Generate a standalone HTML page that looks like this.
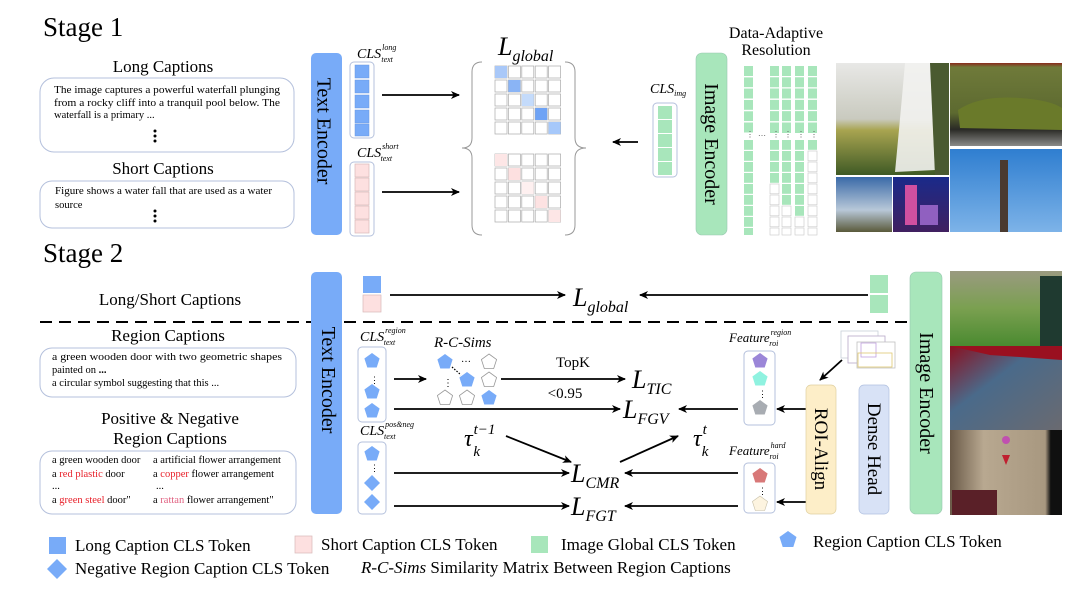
<!DOCTYPE html>
<html><head><meta charset="utf-8"><style>
html,body{margin:0;padding:0;background:#fff;}
svg{display:block;font-family:"Liberation Serif",serif;}
</style></head><body>
<svg width="1090" height="598" viewBox="0 0 1090 598" xmlns="http://www.w3.org/2000/svg">
<defs>
<marker id="ah" markerWidth="10" markerHeight="10" refX="8" refY="5" orient="auto" markerUnits="userSpaceOnUse">
<path d="M0,1 L9,5 L0,9 L2.5,5z" fill="#000"/></marker>
<polygon id="pent" points="0,-8 7.6,-2.5 4.7,6.5 -4.7,6.5 -7.6,-2.5"/>
<polygon id="dia" points="0,-8 8,0 0,8 -8,0"/>
<linearGradient id="wf" x1="0" y1="0" x2="0" y2="1"><stop offset="0" stop-color="#e8e8e6"/><stop offset="0.5" stop-color="#c9cabf"/><stop offset="0.6" stop-color="#a8a450"/><stop offset="1" stop-color="#3f5a25"/></linearGradient>
<linearGradient id="car" x1="0" y1="0" x2="0" y2="1"><stop offset="0" stop-color="#8a2a1c"/><stop offset="0.05" stop-color="#6f7a3a"/><stop offset="0.6" stop-color="#5d6a30"/><stop offset="0.8" stop-color="#2a2a26"/><stop offset="1" stop-color="#8a8a88"/></linearGradient>
<linearGradient id="sky" x1="0" y1="0" x2="0" y2="1"><stop offset="0" stop-color="#2f7ed0"/><stop offset="1" stop-color="#7db3e8"/></linearGradient>
<linearGradient id="land" x1="0" y1="0" x2="0" y2="1"><stop offset="0" stop-color="#3a6aa8"/><stop offset="0.6" stop-color="#b8c8d8"/><stop offset="1" stop-color="#5a5a3a"/></linearGradient>
<linearGradient id="night" x1="0" y1="0" x2="0" y2="1"><stop offset="0" stop-color="#1a2a8a"/><stop offset="1" stop-color="#402060"/></linearGradient>
<linearGradient id="p1" x1="0" y1="0" x2="0" y2="1"><stop offset="0" stop-color="#9a9a80"/><stop offset="0.5" stop-color="#7aa050"/><stop offset="1" stop-color="#4a8a30"/></linearGradient>
<linearGradient id="p2" x1="0" y1="0" x2="1" y2="1"><stop offset="0" stop-color="#8a1020"/><stop offset="0.4" stop-color="#4a6a8a"/><stop offset="1" stop-color="#6a6a70"/></linearGradient>
<linearGradient id="p3" x1="0" y1="0" x2="1" y2="0"><stop offset="0" stop-color="#6a5a48"/><stop offset="0.3" stop-color="#b8a890"/><stop offset="0.85" stop-color="#a89880"/><stop offset="0.9" stop-color="#101010"/></linearGradient>
</defs>

<!-- Stage 1 -->
<text x="43" y="36" font-size="27">Stage 1</text>
<text x="163" y="72" font-size="17" text-anchor="middle">Long Captions</text>
<rect x="40" y="78" width="254" height="74" rx="14" fill="none" stroke="#b4c0dc"/>
<g font-size="10.5">
<text x="54" y="93" textLength="226" lengthAdjust="spacingAndGlyphs">The image captures a powerful waterfall plunging</text>
<text x="54" y="106" textLength="226" lengthAdjust="spacingAndGlyphs">from a rocky cliff into a tranquil pool below. The</text>
<text x="54" y="118">waterfall is a primary ...</text>
</g>
<g fill="#000"><circle cx="155" cy="131" r="1.5"/><circle cx="155" cy="136" r="1.5"/><circle cx="155" cy="141" r="1.5"/></g>
<text x="163" y="174" font-size="17" text-anchor="middle">Short Captions</text>
<rect x="40" y="181" width="254" height="47" rx="12" fill="none" stroke="#b4c0dc"/>
<g font-size="10.5">
<text x="55" y="194" textLength="217" lengthAdjust="spacingAndGlyphs">Figure shows a water fall that are used as a water</text>
<text x="55" y="208">source</text>
</g>
<g fill="#000"><circle cx="155" cy="211" r="1.5"/><circle cx="155" cy="216" r="1.5"/><circle cx="155" cy="221" r="1.5"/></g>

<rect x="311" y="53" width="31" height="182" rx="5" fill="#78abf8"/>
<text transform="translate(319,131) rotate(90)" font-size="20" text-anchor="middle" dominant-baseline="middle" x="0" y="-3">Text Encoder</text>

<text x="357" y="58" font-size="14" font-style="italic">CLS<tspan font-size="8" dy="-8" dx="1">long</tspan><tspan font-size="8" dx="-15" dy="12">text</tspan></text>
<rect x="350" y="62" width="24" height="76" rx="4" fill="none" stroke="#b4c0dc"/>
<g fill="#78abf8" stroke="#6a98e0" stroke-width="0.5">
<rect x="355" y="65" width="14" height="13"/><rect x="355" y="80" width="14" height="13"/><rect x="355" y="95" width="14" height="13"/><rect x="355" y="110" width="14" height="13"/><rect x="355" y="124" width="14" height="12"/></g>
<text x="357" y="157" font-size="14" font-style="italic">CLS<tspan font-size="8" dy="-8" dx="1">short</tspan><tspan font-size="8" dx="-18" dy="12">text</tspan></text>
<rect x="350" y="162" width="24" height="74" rx="4" fill="none" stroke="#b4c0dc"/>
<g fill="#fde0e0" stroke="#d8b8b8" stroke-width="0.7">
<rect x="355" y="164" width="14" height="13"/><rect x="355" y="178" width="14" height="13"/><rect x="355" y="192" width="14" height="13"/><rect x="355" y="206" width="14" height="13"/><rect x="355" y="220" width="14" height="13"/></g>

<g stroke="#000" stroke-width="1.8" marker-end="url(#ah)">
<line x1="382" y1="95" x2="459" y2="95"/>
<line x1="382" y1="192" x2="459" y2="192"/>
<line x1="638" y1="142" x2="613" y2="142"/>
</g>

<text x="498" y="55" font-size="26" font-style="italic">L<tspan font-size="16" dy="6">global</tspan></text>
<path d="M482,62 Q472,62 472,72 L472,138 Q472,148 462,148 Q472,148 472,158 L472,225 Q472,235 482,235" fill="none" stroke="#999" stroke-width="1"/>
<path d="M565,62 Q575,62 575,72 L575,138 Q575,148 586,148 Q575,148 575,158 L575,225 Q575,235 565,235" fill="none" stroke="#999" stroke-width="1"/>
<g fill="#fff" stroke="#aaa" stroke-width="0.7">
<!-- top matrix -->
<g id="mt">
<rect x="495" y="66" width="12" height="12"/><rect x="508.4" y="66" width="12" height="12"/><rect x="521.8" y="66" width="12" height="12"/><rect x="535.2" y="66" width="12" height="12"/><rect x="548.6" y="66" width="12" height="12"/>
<rect x="495" y="80" width="12" height="12"/><rect x="508.4" y="80" width="12" height="12"/><rect x="521.8" y="80" width="12" height="12"/><rect x="535.2" y="80" width="12" height="12"/><rect x="548.6" y="80" width="12" height="12"/>
<rect x="495" y="94" width="12" height="12"/><rect x="508.4" y="94" width="12" height="12"/><rect x="521.8" y="94" width="12" height="12"/><rect x="535.2" y="94" width="12" height="12"/><rect x="548.6" y="94" width="12" height="12"/>
<rect x="495" y="108" width="12" height="12"/><rect x="508.4" y="108" width="12" height="12"/><rect x="521.8" y="108" width="12" height="12"/><rect x="535.2" y="108" width="12" height="12"/><rect x="548.6" y="108" width="12" height="12"/>
<rect x="495" y="122" width="12" height="12"/><rect x="508.4" y="122" width="12" height="12"/><rect x="521.8" y="122" width="12" height="12"/><rect x="535.2" y="122" width="12" height="12"/><rect x="548.6" y="122" width="12" height="12"/>
</g>
<use href="#mt" y="88"/>
</g>
<rect x="495" y="66" width="12" height="12" fill="#a9c8f8"/>
<rect x="508.4" y="80" width="12" height="12" fill="#8ab4f5"/>
<rect x="521.8" y="94" width="12" height="12" fill="#c4dbfb"/>
<rect x="535.2" y="108" width="12" height="12" fill="#6fa3f5"/>
<rect x="548.6" y="122" width="12" height="12" fill="#a6c8fa"/>
<rect x="495" y="154" width="12" height="12" fill="#fde6e6"/>
<rect x="508.4" y="168" width="12" height="12" fill="#fde0e0"/>
<rect x="521.8" y="182" width="12" height="12" fill="#fef0f0"/>
<rect x="535.2" y="196" width="12" height="12" fill="#fde2e2"/>
<rect x="548.6" y="210" width="12" height="12" fill="#fde6e6"/>

<text x="650" y="93" font-size="14" font-style="italic">CLS<tspan font-size="8" dy="3">img</tspan></text>
<rect x="653" y="103" width="24" height="74" rx="4" fill="none" stroke="#b4c0dc"/>
<g fill="#a8e6bb"><rect x="658" y="106" width="14" height="13"/><rect x="658" y="120" width="14" height="13"/><rect x="658" y="134" width="14" height="13"/><rect x="658" y="148" width="14" height="13"/><rect x="658" y="162" width="14" height="13"/></g>

<rect x="696" y="53" width="31" height="182" rx="6" fill="#a8e6bb" stroke="#98c8b0" stroke-width="0.6"/>
<text transform="translate(711,144) rotate(90)" font-size="20" text-anchor="middle" x="0" y="6">Image Encoder</text>

<text x="776" y="38" font-size="16" text-anchor="middle">Data-Adaptive</text>
<text x="776" y="55" font-size="16" text-anchor="middle">Resolution</text>
<g id="gcols"></g>
<g fill="#a8e6bb">
<rect x="744" y="66" width="9" height="10"/><rect x="744" y="77.3" width="9" height="10"/><rect x="744" y="88.6" width="9" height="10"/><rect x="744" y="99.9" width="9" height="10"/><rect x="744" y="111.2" width="9" height="10"/><rect x="744" y="122.5" width="9" height="10"/>
</g>
<g fill="#a8e6bb"><use href="#tc" x="0"/></g>
<!-- columns top part -->
<g fill="#a8e6bb">
<rect x="770" y="66" width="9" height="67"/><rect x="782" y="66" width="9" height="67"/><rect x="795" y="66" width="9" height="67"/><rect x="808" y="66" width="9" height="67"/>
</g>
<g stroke="#fff" stroke-width="1.3">
<line x1="740" y1="76.6" x2="820" y2="76.6"/><line x1="740" y1="87.9" x2="820" y2="87.9"/><line x1="740" y1="99.2" x2="820" y2="99.2"/><line x1="740" y1="110.5" x2="820" y2="110.5"/><line x1="740" y1="121.8" x2="820" y2="121.8"/>
</g>
<g font-size="8" fill="#555"><text x="746" y="137">⋮</text><text x="758" y="136">…</text><text x="772" y="137">⋮</text><text x="784" y="137">⋮</text><text x="797" y="137">⋮</text><text x="810" y="137">⋮</text></g>
<!-- bottom rows -->
<g stroke-width="0.6" stroke="#c8c8c8">
<g fill="#a8e6bb" stroke="none">
<rect x="744" y="140" width="9" height="9.8"/><rect x="744" y="151" width="9" height="9.8"/><rect x="744" y="162" width="9" height="9.8"/><rect x="744" y="173" width="9" height="9.8"/><rect x="744" y="184" width="9" height="9.8"/><rect x="744" y="195" width="9" height="9.8"/><rect x="744" y="206" width="9" height="9.8"/><rect x="744" y="217" width="9" height="9.8"/><rect x="744" y="228" width="9" height="7"/>
<rect x="770" y="140" width="9" height="9.8"/><rect x="770" y="151" width="9" height="9.8"/><rect x="770" y="162" width="9" height="9.8"/><rect x="770" y="173" width="9" height="9.8"/>
<rect x="782" y="140" width="9" height="9.8"/><rect x="782" y="151" width="9" height="9.8"/><rect x="782" y="162" width="9" height="9.8"/><rect x="782" y="173" width="9" height="9.8"/><rect x="782" y="184" width="9" height="9.8"/><rect x="782" y="195" width="9" height="9.8"/>
<rect x="795" y="140" width="9" height="9.8"/><rect x="795" y="151" width="9" height="9.8"/><rect x="795" y="162" width="9" height="9.8"/><rect x="795" y="173" width="9" height="9.8"/><rect x="795" y="184" width="9" height="9.8"/><rect x="795" y="195" width="9" height="9.8"/><rect x="795" y="206" width="9" height="9.8"/>
<rect x="808" y="140" width="9" height="9.8"/>
</g>
<g fill="#fff">
<rect x="770" y="184" width="9" height="9.8"/><rect x="770" y="195" width="9" height="9.8"/><rect x="770" y="206" width="9" height="9.8"/><rect x="770" y="217" width="9" height="9.8"/><rect x="770" y="228" width="9" height="7"/>
<rect x="782" y="206" width="9" height="9.8"/><rect x="782" y="217" width="9" height="9.8"/><rect x="782" y="228" width="9" height="7"/>
<rect x="795" y="217" width="9" height="9.8"/><rect x="795" y="228" width="9" height="7"/>
<rect x="808" y="151" width="9" height="9.8"/><rect x="808" y="162" width="9" height="9.8"/><rect x="808" y="173" width="9" height="9.8"/><rect x="808" y="184" width="9" height="9.8"/><rect x="808" y="195" width="9" height="9.8"/><rect x="808" y="206" width="9" height="9.8"/><rect x="808" y="217" width="9" height="9.8"/><rect x="808" y="228" width="9" height="7"/>
</g></g>

<!-- photos stage 1 -->
<rect x="836" y="63" width="113" height="112" fill="url(#wf)"/>
<path d="M905,63 L930,63 L935,170 L895,172 Q900,120 905,63z" fill="#f2f2f0" opacity="0.9"/>
<path d="M930,63 L949,63 L949,175 L935,175z" fill="#4a5a30"/>
<rect x="950" y="63" width="112" height="83" fill="url(#car)"/>
<path d="M958,110 Q980,95 1020,98 Q1050,100 1062,108 L1062,130 L960,128z" fill="#6a7a2a"/>
<rect x="950" y="149" width="112" height="83" fill="url(#sky)"/>
<rect x="1000" y="160" width="8" height="72" fill="#4a3a30"/>
<rect x="836" y="177" width="56" height="55" fill="url(#land)"/>
<rect x="893" y="177" width="56" height="55" fill="url(#night)"/>
<rect x="905" y="185" width="12" height="40" fill="#d050a0"/><rect x="920" y="205" width="18" height="20" fill="#9060c0"/>

<!-- Stage 2 -->
<text x="43" y="262" font-size="27">Stage 2</text>
<text x="170" y="305" font-size="17" text-anchor="middle">Long/Short Captions</text>
<line x1="40" y1="322" x2="910" y2="322" stroke="#000" stroke-width="2" stroke-dasharray="12,7"/>
<rect x="311" y="272" width="31" height="242" rx="5" fill="#78abf8"/>
<text transform="translate(319,380) rotate(90)" font-size="20" text-anchor="middle" x="0" y="-3">Text Encoder</text>
<rect x="910" y="272" width="32" height="242" rx="6" fill="#a8e6bb" stroke="#98c8b0" stroke-width="0.6"/>
<text transform="translate(926,393) rotate(90)" font-size="20" text-anchor="middle" x="0" y="6">Image Encoder</text>
<rect x="363" y="276" width="18" height="17" fill="#78abf8"/>
<rect x="363" y="295" width="18" height="17" fill="#fde0e0" stroke="#d8b8b8" stroke-width="0.7"/>
<rect x="870" y="275" width="18" height="18" fill="#a8e6bb"/>
<rect x="870" y="295" width="18" height="18" fill="#a8e6bb"/>
<g stroke="#000" stroke-width="1.8" marker-end="url(#ah)">
<line x1="390" y1="295" x2="565" y2="295"/>
<line x1="868" y1="295" x2="640" y2="295"/>
</g>
<text x="573" y="306" font-size="26" font-style="italic">L<tspan font-size="16" dy="6">global</tspan></text>

<text x="168" y="341" font-size="17" text-anchor="middle">Region Captions</text>
<rect x="40" y="348" width="256" height="49" rx="12" fill="none" stroke="#b4c0dc"/>
<g font-size="10.5">
<text x="52" y="360" textLength="230" lengthAdjust="spacingAndGlyphs">a green wooden door with two geometric shapes</text>
<text x="52" y="373">painted on <tspan font-weight="bold">...</tspan></text>
<text x="52" y="386">a circular symbol suggesting that this ...</text>
</g>
<text x="170" y="424" font-size="17" text-anchor="middle">Positive &amp; Negative</text>
<text x="170" y="444" font-size="17" text-anchor="middle">Region Captions</text>
<rect x="40" y="451" width="256" height="63" rx="12" fill="none" stroke="#b4c0dc"/>
<g font-size="10.5">
<text x="52" y="463">a green wooden door</text>
<text x="153" y="463">a artificial flower arrangement</text>
<text x="52" y="477">a <tspan fill="#e8202a">red plastic</tspan> door</text>
<text x="153" y="477">a <tspan fill="#e8202a">copper</tspan> flower arrangement</text>
<text x="52" y="489">...</text><text x="156" y="489">...</text>
<text x="52" y="503">a <tspan fill="#e8202a">green steel</tspan> door"</text>
<text x="153" y="503">a <tspan fill="#e06080">rattan</tspan> flower arrangement"</text>
</g>

<!-- middle stage 2 -->
<text x="360" y="341" font-size="14" font-style="italic">CLS<tspan font-size="8" dy="-8" dx="1">region</tspan><tspan font-size="8" dx="-22" dy="12">text</tspan></text>
<rect x="358" y="347" width="28" height="75" rx="4" fill="none" stroke="#b4c0dc"/>
<g fill="#78abf8"><use href="#pent" x="372" y="361"/><use href="#pent" x="372" y="392"/><use href="#pent" x="372" y="411"/></g>
<text x="370" y="383" font-size="9">⋮</text>
<text x="360" y="435" font-size="14" font-style="italic">CLS<tspan font-size="8" dy="-8" dx="1">pos&amp;neg</tspan><tspan font-size="8" dx="-30" dy="12">text</tspan></text>
<rect x="358" y="442" width="28" height="72" rx="4" fill="none" stroke="#b4c0dc"/>
<g fill="#78abf8"><use href="#pent" x="372" y="454"/><use href="#dia" x="372" y="483"/><use href="#dia" x="372" y="502"/></g>
<text x="370" y="471" font-size="9">⋮</text>

<text x="434" y="347" font-size="15" font-style="italic">R-C-Sims</text>
<g fill="#78abf8"><use href="#pent" x="445" y="362"/><use href="#pent" x="467" y="380"/><use href="#pent" x="489" y="398"/></g>
<g fill="#fff" stroke="#999" stroke-width="0.8"><use href="#pent" x="489" y="362"/><use href="#pent" x="489" y="380"/><use href="#pent" x="445" y="398"/><use href="#pent" x="467" y="398"/></g>
<text x="461" y="362" font-size="10">…</text>
<text x="443" y="386" font-size="10">⋮</text>
<line x1="452" y1="367" x2="461" y2="375" stroke="#000" stroke-width="1.2" stroke-dasharray="1.5,1.5"/>

<g stroke="#000" stroke-width="1.8" marker-end="url(#ah)">
<line x1="394" y1="379" x2="426" y2="379"/>
<line x1="501" y1="379" x2="625" y2="379"/>
<line x1="394" y1="409" x2="620" y2="409"/>
<line x1="738" y1="409" x2="679" y2="409"/>
<line x1="806" y1="409" x2="777" y2="409"/>
<line x1="394" y1="473" x2="569" y2="473"/>
<line x1="738" y1="473" x2="625" y2="473"/>
<line x1="394" y1="506" x2="569" y2="506"/>
<line x1="738" y1="506" x2="625" y2="506"/>
<line x1="806" y1="502" x2="777" y2="502"/>
<line x1="506" y1="436" x2="571" y2="462"/>
<line x1="620" y1="462" x2="678" y2="436"/>
<line x1="842" y1="360" x2="820" y2="380"/>
</g>
<text x="573" y="367" font-size="15" text-anchor="middle">TopK</text>
<text x="565" y="398" font-size="15" text-anchor="middle">&lt;0.95</text>
<text x="632" y="388" font-size="26" font-style="italic">L<tspan font-size="16" dy="6">TIC</tspan></text>
<text x="623" y="418" font-size="26" font-style="italic">L<tspan font-size="16" dy="6">FGV</tspan></text>
<text x="571" y="482" font-size="26" font-style="italic">L<tspan font-size="16" dy="6">CMR</tspan></text>
<text x="571" y="515" font-size="26" font-style="italic">L<tspan font-size="16" dy="6">FGT</tspan></text>
<text x="464" y="446" font-size="24" font-style="italic">τ<tspan font-size="15" dy="-12" dx="1">t−1</tspan><tspan font-size="15" dx="-22" dy="22">k</tspan></text>
<text x="693" y="446" font-size="24" font-style="italic">τ<tspan font-size="15" dy="-12" dx="1">t</tspan><tspan font-size="15" dx="-5" dy="22">k</tspan></text>

<text x="729" y="342" font-size="13" font-style="italic">Feature<tspan font-size="8" dy="-7" dx="1">region</tspan><tspan font-size="8" dx="-22" dy="11">roi</tspan></text>
<rect x="744" y="351" width="31" height="74" rx="4" fill="none" stroke="#b4c0dc"/>
<use href="#pent" x="760" y="361" fill="#9b86d8"/>
<use href="#pent" x="760" y="379" fill="#8ff2e0"/>
<text x="758" y="397" font-size="9">⋮</text>
<use href="#pent" x="760" y="408" fill="#a8acb2"/>
<text x="729" y="455" font-size="13" font-style="italic">Feature<tspan font-size="8" dy="-7" dx="1">hard</tspan><tspan font-size="8" dx="-16" dy="11">roi</tspan></text>
<rect x="744" y="463" width="31" height="50" rx="4" fill="none" stroke="#b4c0dc"/>
<use href="#pent" x="760" y="476" fill="#d87878"/>
<text x="758" y="494" font-size="9">⋮</text>
<use href="#pent" x="760" y="504" fill="#fdf4e0" stroke="#c8c0a8" stroke-width="0.6"/>

<rect x="806" y="385" width="30" height="129" rx="5" fill="#fdeec8" stroke="#e0d0a0" stroke-width="0.7"/>
<text transform="translate(821,449) rotate(90)" font-size="19" text-anchor="middle" x="0" y="6">ROI-Align</text>
<rect x="859" y="385" width="30" height="129" rx="5" fill="#d8e2f6" stroke="#b0c0e0" stroke-width="0.7"/>
<text transform="translate(874,449) rotate(90)" font-size="19" text-anchor="middle" x="0" y="6">Dense Head</text>
<rect x="841" y="331" width="37" height="27" fill="#fff" stroke="#c8d0d8" stroke-width="0.8"/>
<rect x="848" y="336" width="37" height="27" fill="#fff" stroke="#b8a8c8" stroke-width="0.8"/>
<rect x="857" y="342" width="38" height="26" fill="#fff" stroke="#c0c0c0" stroke-width="0.8"/>
<rect x="861" y="343" width="15" height="14" fill="none" stroke="#c0a0e0" stroke-width="0.8"/>
<rect x="858" y="353" width="34" height="14" fill="none" stroke="#e0c870" stroke-width="0.8"/>

<!-- photos stage 2 -->
<rect x="950" y="271" width="112" height="75" fill="url(#p1)"/>
<rect x="1040" y="276" width="22" height="70" fill="#1f3a30"/>
<rect x="950" y="346" width="112" height="84" fill="url(#p2)"/>
<path d="M950,346 L1062,346 L1062,360 L990,355z" fill="#9a1020"/>
<rect x="950" y="430" width="112" height="85" fill="url(#p3)"/>
<circle cx="1006" cy="440" r="4" fill="#c050b0"/><path d="M1002,455 L1010,455 L1006,465z" fill="#c02030"/>
<rect x="952" y="490" width="45" height="25" fill="#5a2028"/>

<!-- legend -->
<rect x="49" y="537" width="17" height="17" fill="#78abf8"/>
<text x="75" y="551" font-size="17">Long Caption CLS Token</text>
<rect x="295" y="536" width="17" height="17" fill="#fde0e0" stroke="#d8b8b8" stroke-width="0.7"/>
<text x="321" y="550" font-size="17">Short Caption CLS Token</text>
<rect x="531" y="536" width="17" height="17" fill="#a8e6bb"/>
<text x="561" y="550" font-size="17">Image Global CLS Token</text>
<polygon points="788,531 796.5,537 793.3,547 782.7,547 779.5,537" fill="#78abf8"/>
<text x="813" y="547" font-size="17">Region Caption CLS Token</text>
<polygon points="57,559 67,569 57,579 47,569" fill="#78abf8"/>
<text x="75" y="574" font-size="17">Negative Region Caption CLS Token</text>
<text x="361" y="573" font-size="17"><tspan font-style="italic">R-C-Sims</tspan> Similarity Matrix Between Region Captions</text>
</svg>
</body></html>
